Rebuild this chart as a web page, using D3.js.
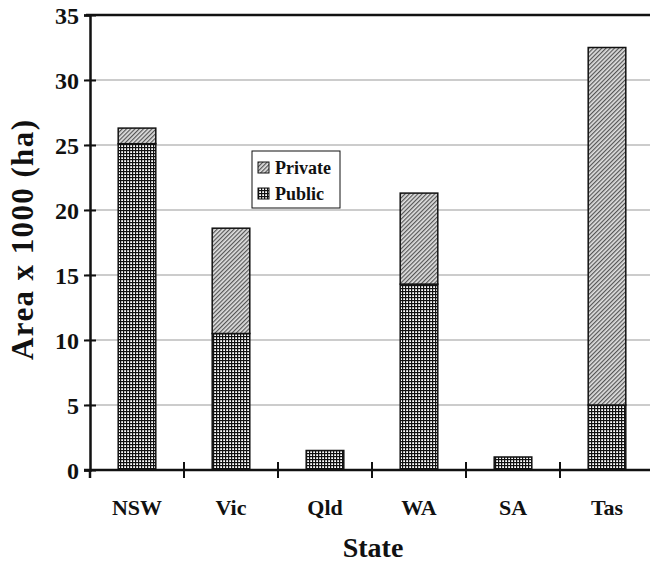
<!DOCTYPE html>
<html>
<head>
<meta charset="utf-8">
<script src="https://cdn.jsdelivr.net/npm/d3@7"></script>
<style>
  body { margin: 0; background: #fff; }
  text { font-family: "Liberation Serif", "DejaVu Serif", "Times New Roman", serif; font-weight: bold; fill: #111; }
</style>
</head>
<body>
<div id="chart"></div>
<script>
const states = ["NSW", "Vic", "Qld", "WA", "SA", "Tas"]
const publicArea = [25.1, 10.5, 1.5, 14.3, 1.0, 5.0]
const privateArea = [1.2, 8.1, 0, 7.0, 0, 27.5]
const yTicks = [0, 5, 10, 15, 20, 25, 30, 35]
const seriesNames = ["Private", "Public"]

const width = 650, height = 562
const margin = { left: 90, right: 0, top: 15, bottom: 92 }

const svg = d3.select("#chart").append("svg")
  .attr("width", width)
  .attr("height", height)

// fill patterns
const defs = svg.append("defs")
const pub = defs.append("pattern").attr("id", "pubPat")
  .attr("patternUnits", "userSpaceOnUse").attr("width", 3).attr("height", 3)
pub.append("rect").attr("width", 3).attr("height", 3).attr("fill", "#fff")
pub.append("rect").attr("width", 3).attr("height", 1.2).attr("fill", "#111")
pub.append("rect").attr("width", 1.2).attr("height", 3).attr("fill", "#111")

const priv = defs.append("pattern").attr("id", "privPat")
  .attr("patternUnits", "userSpaceOnUse").attr("width", 3).attr("height", 3)
  .attr("patternTransform", "rotate(45)")
priv.append("rect").attr("width", 3).attr("height", 3).attr("fill", "#e0e0e0")
priv.append("rect").attr("width", 1.2).attr("height", 3).attr("fill", "#555")

const x = d3.scaleBand()
  .domain(states)
  .range([margin.left, width - margin.right + 4])
  .paddingInner(0.6)
  .paddingOuter(0.3)

const y = d3.scaleLinear()
  .domain([0, 35])
  .range([height - margin.bottom, margin.top])

// gridlines
svg.append("g")
  .selectAll("line")
  .data(yTicks.filter((d) => d > 0))
  .join("line")
  .attr("x1", margin.left - 4)
  .attr("x2", width)
  .attr("y1", (d) => y(d))
  .attr("y2", (d) => y(d))
  .attr("stroke", (d) => d === 35 ? "#111" : "#999")
  .attr("stroke-width", (d) => d === 35 ? 2.5 : 1)

// stacked bars
const stackData = states.map((s, i) => ({ state: s, Public: publicArea[i], Private: privateArea[i] }))
const stacked = d3.stack().keys(["Public", "Private"])(stackData)
const fills = { Public: "url(#pubPat)", Private: "url(#privPat)" }

svg.append("g")
  .selectAll("g")
  .data(stacked)
  .join("g")
  .attr("fill", (d) => fills[d.key])
  .selectAll("rect")
  .data((d) => d.filter((v) => v[1] - v[0] > 0))
  .join("rect")
  .attr("x", (d) => x(d.data.state))
  .attr("width", x.bandwidth())
  .attr("y", (d) => y(d[1]))
  .attr("height", (d) => y(d[0]) - y(d[1]))
  .attr("stroke", "#111")
  .attr("stroke-width", 1.5)

// y axis
const yAxis = svg.append("g")
  .attr("transform", `translate(${margin.left},0)`)
  .call(d3.axisLeft(y).tickValues(yTicks).tickSize(6).tickPadding(8))
yAxis.attr("font-family", null)
yAxis.select(".domain").attr("stroke", "#111").attr("stroke-width", 2.5)
yAxis.selectAll(".tick line").attr("stroke", "#111").attr("stroke-width", 2).attr("x2", 6).attr("x1", -6)
yAxis.selectAll(".tick text").style("font-size", "24px").attr("x", -11).attr("dy", "0.35em")

// x axis with ticks between categories
const xBase = y(0)
svg.append("line")
  .attr("x1", margin.left - 6).attr("x2", width)
  .attr("y1", xBase).attr("y2", xBase)
  .attr("stroke", "#111").attr("stroke-width", 2.5)

const step = x.step()
const bounds = states.map((s) => x(s) - step * x.paddingInner() / 2).slice(1)
svg.append("g")
  .selectAll("line")
  .data(bounds)
  .join("line")
  .attr("x1", (d) => d).attr("x2", (d) => d)
  .attr("y1", xBase - 8).attr("y2", xBase + 8)
  .attr("stroke", "#111").attr("stroke-width", 2)

svg.append("line")
  .attr("x1", margin.left).attr("x2", margin.left)
  .attr("y1", xBase).attr("y2", xBase + 8)
  .attr("stroke", "#111").attr("stroke-width", 2.5)

svg.append("g")
  .selectAll("text")
  .data(states)
  .join("text")
  .attr("x", (d) => x(d) + x.bandwidth() / 2)
  .attr("y", xBase + 45)
  .attr("text-anchor", "middle")
  .style("font-size", "22px")
  .text((d) => d)

// axis titles
svg.append("text")
  .attr("x", 373)
  .attr("y", 557)
  .attr("text-anchor", "middle")
  .style("font-size", "28px")
  .text("State")

svg.append("text")
  .attr("transform", `translate(33,240) rotate(-90)`)
  .attr("text-anchor", "middle")
  .attr("textLength", 240)
  .attr("lengthAdjust", "spacing")
  .style("font-size", "31px")
  .text("Area x 1000 (ha)")

// legend
const legend = svg.append("g").attr("transform", "translate(252,151)")
legend.append("rect")
  .attr("width", 88).attr("height", 57)
  .attr("fill", "#fff").attr("stroke", "#111").attr("stroke-width", 1)
seriesNames.forEach((name, i) => {
  legend.append("rect")
    .attr("x", 6).attr("y", 11 + i * 26)
    .attr("width", 11).attr("height", 11)
    .attr("fill", fills[name]).attr("stroke", "#111").attr("stroke-width", 1)
  legend.append("text")
    .attr("x", 23).attr("y", 23 + i * 26)
    .style("font-size", "18px")
    .text(name)
})
</script>
</body>
</html>
